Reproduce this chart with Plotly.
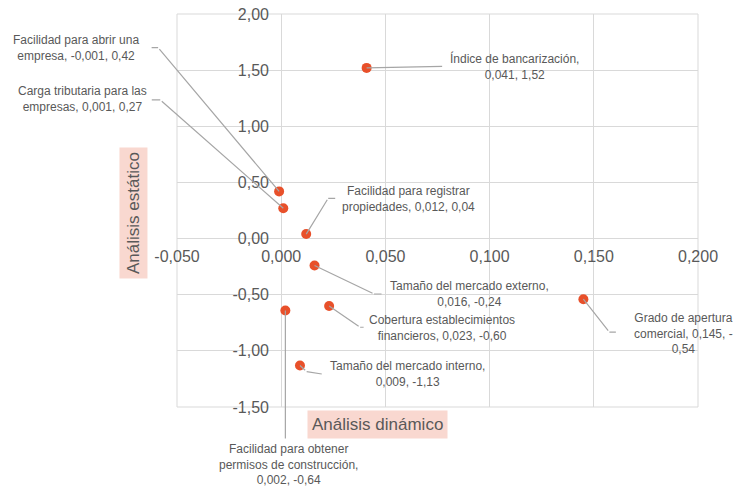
import plotly.graph_objects as go

# ---- data ----
names = [
    "Índice de bancarización,<br>0,041, 1,52",
    "Facilidad para abrir una<br>empresa, -0,001, 0,42",
    "Carga tributaria para las<br>empresas, 0,001, 0,27",
    "Facilidad para registrar<br>propiedades, 0,012, 0,04",
    "Tamaño del mercado externo,<br>0,016, -0,24",
    "Grado de apertura<br>comercial, 0,145, -<br>0,54",
    "Cobertura establecimientos<br>financieros, 0,023, -0,60",
    "Facilidad para obtener<br>permisos de construcción,<br>0,002, -0,64",
    "Tamaño del mercado interno,<br>0,009, -1,13",
]
dinamico = [0.041, -0.001, 0.001, 0.012, 0.016, 0.145, 0.023, 0.002, 0.009]
estatico = [1.52, 0.42, 0.27, 0.04, -0.24, -0.54, -0.60, -0.64, -1.13]

x_tickvals = [-0.05, 0.0, 0.05, 0.10, 0.15, 0.20]
x_ticktext = ["-0,050", "0,000", "0,050", "0,100", "0,150", "0,200"]
y_tickvals = [-1.5, -1.0, -0.5, 0.0, 0.5, 1.0, 1.5, 2.0]
y_ticktext = ["-1,50", "-1,00", "-0,50", "0,00", "0,50", "1,00", "1,50", "2,00"]

# ---- layout of labels (pixel offsets from each point, y up) ----
label_offsets = [(148, 1), (-203, 143), (-201, 109), (102, 35), (155, -28),
                 (100, -34), (113, -22), (3, -154), (108, -9)]
# leader line vertices (pixel offsets from the point, y up)
leaders = [
    [(77, 1.5)],
    [(-121, 143.7), (-129, 143.7)],
    [(-123, 108.3), (-133, 108.3)],
    [(22, 35.8), (30.5, 35.8)],
    [(59.5, -28.5), (68.5, -28.5)],
    [(26, -33), (34, -33)],
    [(31, -21.3), (36, -21.3)],
    [(0, -129.5)],
    [(6.7, -6.2), (23.3, -8.8)],
]

FONT = "Liberation Sans, Arial, sans-serif"
TXT = "#595959"
GRID = "#d9d9d9"
LEAD = "#a6a6a6"

fig = go.Figure()
fig.add_trace(go.Scatter(
    x=dinamico, y=estatico, mode="markers",
    marker=dict(size=10, color="#E8502A", line=dict(width=0)),
    hoverinfo="skip", showlegend=False,
))

annotations = []
for xv, yv, txt, (dx, dy), pts in zip(dinamico, estatico, names, label_offsets, leaders):
    prev = (0, 0)
    for p in pts:
        annotations.append(dict(
            x=xv, y=yv, xref="x", yref="y", text="",
            xshift=prev[0], yshift=prev[1],
            showarrow=True, arrowhead=0, arrowwidth=1.2, arrowcolor=LEAD,
            ax=p[0] - prev[0], ay=-(p[1] - prev[1]), axref="pixel", ayref="pixel",
            standoff=0, startstandoff=0,
        ))
        prev = p
    annotations.append(dict(
        x=xv, y=yv, xref="x", yref="y", text=txt, showarrow=False,
        xshift=dx, yshift=dy, xanchor="center", yanchor="middle",
        align="center", font=dict(family=FONT, size=12, color=TXT),
    ))

annotations.append(dict(
    x=0.384, y=-0.0458, xref="paper", yref="paper", text="Análisis dinámico",
    xanchor="center", yanchor="middle",
    showarrow=False, bgcolor="#F9D8D0", borderpad=4,
    font=dict(family=FONT, size=17, color=TXT),
))
annotations.append(dict(
    x=-0.0845, y=0.4936, xref="paper", yref="paper", text="Análisis estático",
    xanchor="center", yanchor="middle",
    showarrow=False, bgcolor="#F9D8D0", borderpad=4, textangle=-90,
    font=dict(family=FONT, size=17, color=TXT),
))

fig.update_layout(
    width=735, height=487,
    margin=dict(l=177, r=37, t=14, b=80, autoexpand=False),
    paper_bgcolor="white", plot_bgcolor="white",
    font=dict(family=FONT, color=TXT),
    annotations=annotations,
    shapes=[dict(type="rect", xref="paper", yref="paper", x0=0, x1=1, y0=0, y1=1,
                 line=dict(color=GRID, width=1), layer="between")],
    xaxis=dict(
        range=[-0.05, 0.2], tickvals=x_tickvals, ticktext=x_ticktext,
        anchor="free", position=1.5 / 3.5, automargin=False,
        showgrid=True, gridcolor=GRID, gridwidth=1,
        zeroline=True, zerolinecolor=GRID, zerolinewidth=1,
        showline=False, ticks="outside", ticklen=3, tickcolor="rgba(0,0,0,0)",
        tickfont=dict(family=FONT, size=16, color=TXT),
        fixedrange=True,
    ),
    yaxis=dict(
        range=[-1.5, 2.0], tickvals=y_tickvals, ticktext=y_ticktext,
        anchor="free", position=0.2, automargin=False,
        showgrid=True, gridcolor=GRID, gridwidth=1,
        zeroline=True, zerolinecolor=GRID, zerolinewidth=1,
        showline=False, ticks="outside", ticklen=9, tickcolor="rgba(0,0,0,0)",
        tickfont=dict(family=FONT, size=16, color=TXT),
        fixedrange=True,
    ),
)

fig.write_html("out.html", config={"displayModeBar": False},
               post_script="document.body.style.margin='0';")
